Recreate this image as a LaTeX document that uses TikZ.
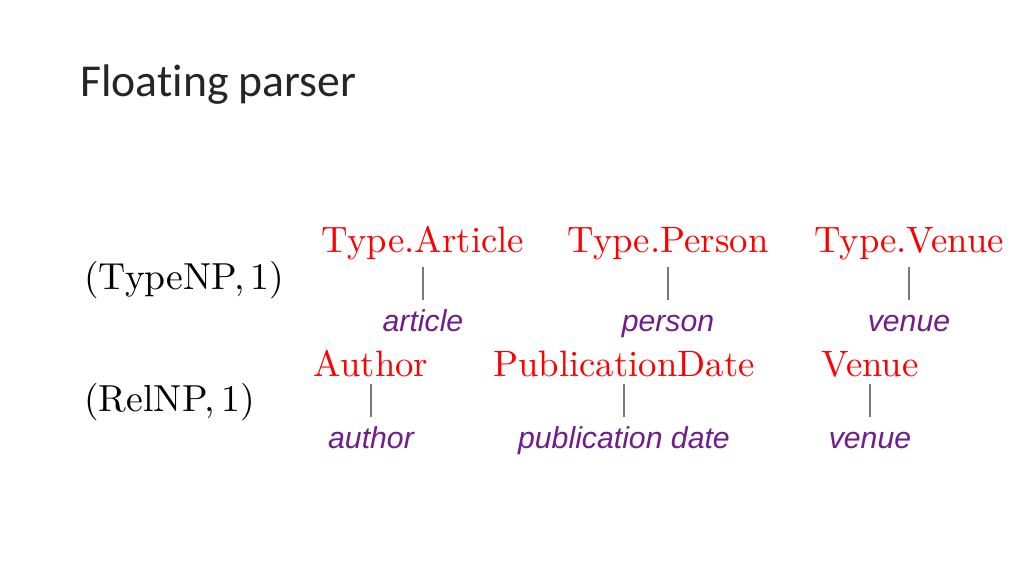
\documentclass[tikz,border=0pt]{standalone}
\usepackage{fontspec}
\newfontfamily\slidefont[Ligatures=NoCommon]{Carlito}
\newfontfamily\wordfont{Liberation Sans}
\newfontfamily\predfont[Extension=.otf]{lmroman10-regular}
\usetikzlibrary{positioning}

\definecolor{predred}{RGB}{255,0,0}
\definecolor{wordpurple}{RGB}{112,30,140}
\definecolor{linkgray}{RGB}{120,120,120}

\tikzset{
  pred/.style={text=predred,font=\predfont\fontsize{20.9}{25}\selectfont},
  word/.style={text=wordpurple,font=\wordfont\itshape\fontsize{17.2}{20}\selectfont,
               text height=14.5pt,text depth=4pt},
  rule/.style={font=\predfont\fontsize{21.4}{25}\selectfont,anchor=base west,inner sep=0pt},
  link/.style={draw=linkgray,line width=0.8pt}
}

\begin{document}
\begin{tikzpicture}
  \fill[white] (0,0) rectangle (20.48,11.52);
  \useasboundingbox (0,0) rectangle (20.48,11.52);

  % Title
  \node[anchor=base west,inner sep=0pt,text=black!85,
        font=\slidefont\fontsize{26}{30}\selectfont] (title) at (1.60,9.58) {Floating parser};

  % Rules
  \node[rule] (typenp) at (1.68,5.72) {(TypeNP,\,1)};
  \node[rule] (relnp)  at (1.68,3.28) {(RelNP,\,1)};

  % TypeNP predicates
  \node[pred,anchor=base] (tarticle) at (8.46,6.46)  {Type.Article};
  \node[pred,anchor=base] (tperson)  at (13.36,6.46) {Type.Person};
  \node[pred,anchor=base] (tvenue)   at (18.18,6.46) {Type.Venue};

  \begin{scope}[every node/.style={word}]
    \node (warticle) at (tarticle.south) [below=0.66cm] {article};
    \node (wperson)  at (tperson.south)  [below=0.66cm] {person};
    \node (wtvenue)  at (tvenue.south)   [below=0.66cm] {venue};
  \end{scope}

  % RelNP predicates
  \node[pred,anchor=base] (rauthor) at (7.42,3.98)  {Author};
  \node[pred,anchor=base] (rdate)   at (12.48,3.98) {PublicationDate};
  \node[pred,anchor=base] (rvenue)  at (17.40,3.98) {Venue};

  \begin{scope}[every node/.style={word}]
    \node (wauthor) at (rauthor.south) [below=0.66cm] {author};
    \node (wdate)   at (rdate.south)   [below=0.66cm] {publication date};
    \node (wrvenue) at (rvenue.south)  [below=0.66cm] {venue};
  \end{scope}

  \draw[link] (tarticle) -- (warticle);
  \draw[link] (tperson)  -- (wperson);
  \draw[link] (tvenue)   -- (wtvenue);
  \draw[link] (rauthor)  -- (wauthor);
  \draw[link] (rdate)    -- (wdate);
  \draw[link] (rvenue)   -- (wrvenue);

\end{tikzpicture}
\end{document}
